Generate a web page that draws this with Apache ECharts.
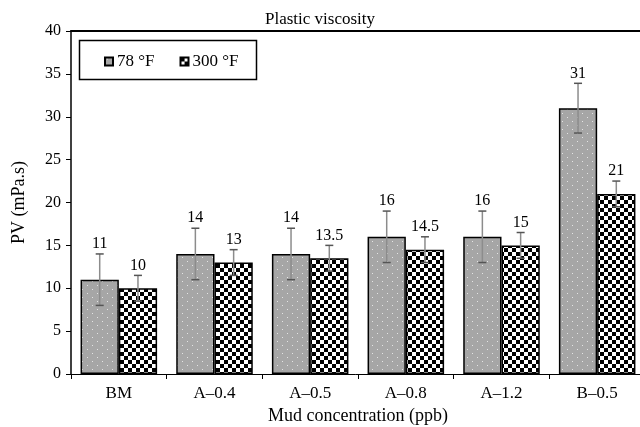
<!DOCTYPE html>
<html><head><meta charset="utf-8">
<script src="https://cdn.jsdelivr.net/npm/echarts@6/dist/echarts.min.js"></script>
<style>html,body{margin:0;padding:0;background:#fff}#c{width:640px;height:427px}</style>
</head><body><div id="c"></div>
<script>
const categories = ['BM', 'A–0.4', 'A–0.5', 'A–0.8', 'A–1.2', 'B–0.5'];
const seriesNames = ['78 °F', '300 °F'];
const pv78 = [11, 14, 14, 16, 16, 31];
const pv300 = [10, 13, 13.5, 14.5, 15, 21];
const err78 = [3, 3, 3, 3, 3, 2.9];
const err300 = [1.5, 1.5, 1.5, 1.5, 1.5, 1.5];
const yMin = 0, yMax = 40, yStep = 5;

const FONT = "'Liberation Serif', 'Times New Roman', serif";

function dotPattern() {
  const c = document.createElement('canvas'); c.width = 10; c.height = 8;
  const g = c.getContext('2d');
  g.fillStyle = '#a6a6a6'; g.fillRect(0, 0, 10, 8);
  g.fillStyle = '#e4e4e4'; g.fillRect(2, 1, 1, 1); g.fillRect(7, 5, 1, 1);
  return c;
}
function checkPattern() {
  const c = document.createElement('canvas'); c.width = 8; c.height = 8;
  const g = c.getContext('2d');
  g.fillStyle = '#ffffff'; g.fillRect(0, 0, 8, 8);
  g.fillStyle = '#000000'; g.fillRect(0, 0, 4, 4); g.fillRect(4, 4, 4, 4);
  return c;
}

function errSeries(name, vals, errs, side) {
  return {
    type: 'custom', name: name, z: 10, silent: true,
    data: categories.map((c, i) => [i, vals[i], errs[i]]),
    renderItem(params, api) {
      const i = api.value(0), v = api.value(1), e = api.value(2);
      const bw = api.size([1, 0])[0] * 0.8 / 2;
      const top = api.coord([i, v + e]);
      const bot = api.coord([i, v - e]);
      const x = top[0] + side * bw / 2;
      return {
        type: 'group', children: [
          { type: 'line', shape: { x1: x, y1: top[1], x2: x, y2: bot[1] }, style: { stroke: '#8c8c8c', lineWidth: 1.5 } },
          { type: 'line', shape: { x1: x - 4, y1: top[1], x2: x + 4, y2: top[1] }, style: { stroke: '#555', lineWidth: 1.5 } },
          { type: 'line', shape: { x1: x - 4, y1: bot[1], x2: x + 4, y2: bot[1] }, style: { stroke: '#555', lineWidth: 1.5 } },
          { type: 'text', x: x, y: top[1] - 2, style: { text: String(v), fontFamily: FONT, fontSize: 16, fill: '#000', align: 'center', verticalAlign: 'bottom' } }
        ]
      };
    }
  };
}

const chart = echarts.init(document.getElementById('c'), null, { renderer: 'canvas' });
chart.setOption({
  animation: false,
  backgroundColor: '#fff',
  title: { text: 'Plastic viscosity', left: 'center', top: 6, textStyle: { fontFamily: FONT, fontSize: 17, fontWeight: 'normal', color: '#000' } },
  graphic: [{ type: 'rect', left: 77, top: 38, shape: { width: 177, height: 39 }, style: { fill: 'none', stroke: '#000', lineWidth: 1.5 }, z: 1 }],
  legend: {
    data: seriesNames, left: 99, top: 48, itemWidth: 8, itemHeight: 8, itemGap: 25, icon: 'rect', z: 5,
    textStyle: { fontFamily: FONT, fontSize: 17, color: '#000', padding: [0, 0, 0, -1] }
  },
  grid: { left: 71, right: -5, top: 31, bottom: 53, containLabel: false, outerBoundsMode: 'none' },
  xAxis: [{
    type: 'category', data: categories, position: 'bottom',
    name: 'Mud concentration (ppb)', nameLocation: 'middle', nameGap: 31,
    nameTextStyle: { fontFamily: FONT, fontSize: 18, color: '#000' },
    axisLine: { lineStyle: { color: '#000', width: 1 } },
    axisTick: { show: true, length: 5, lineStyle: { color: '#000' } },
    axisLabel: { fontFamily: FONT, fontSize: 17, color: '#000', margin: 11 }
  }, {
    type: 'category', data: categories, position: 'top',
    axisLine: { lineStyle: { color: '#000', width: 2 } },
    axisTick: { show: false }, axisLabel: { show: false }
  }],
  yAxis: {
    type: 'value', min: yMin, max: yMax, interval: yStep,
    name: 'PV (mPa.s)', nameLocation: 'middle', nameGap: 43,
    nameTextStyle: { fontFamily: FONT, fontSize: 18, color: '#000' },
    axisLine: { show: true, lineStyle: { color: '#000', width: 1.5 } },
    axisTick: { show: true, length: 5, lineStyle: { color: '#000' } },
    axisLabel: { fontFamily: FONT, fontSize: 16, color: '#000', margin: 10 },
    splitLine: { show: false }
  },
  series: [
    { type: 'bar', name: seriesNames[0], data: pv78, barGap: '0%', barCategoryGap: '20%',
      itemStyle: { color: { image: dotPattern(), repeat: 'repeat' }, borderColor: '#000', borderWidth: 1.5 } },
    { type: 'bar', name: seriesNames[1], data: pv300, barGap: '0%', barCategoryGap: '20%',
      itemStyle: { color: { image: checkPattern(), repeat: 'repeat' }, borderColor: '#000', borderWidth: 1.5 } },
    errSeries('e78', pv78, err78, -1),
    errSeries('e300', pv300, err300, 1)
  ]
});
</script></body></html>
